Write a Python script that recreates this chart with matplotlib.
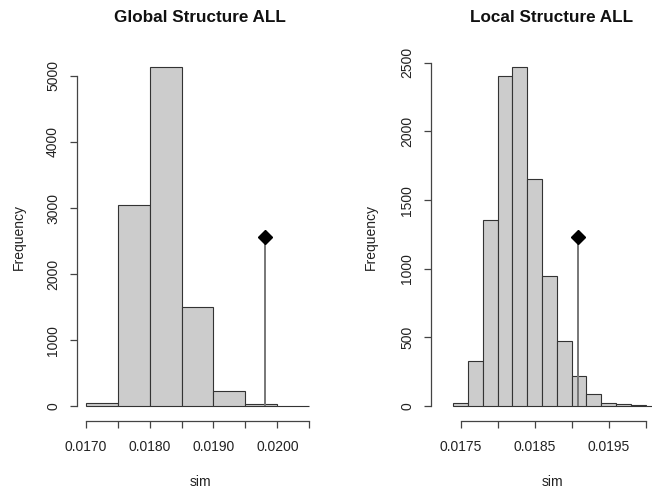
import matplotlib
matplotlib.use("Agg")
import matplotlib.pyplot as plt
import numpy as np

plt.rcParams['font.family'] = ['Liberation Sans', 'DejaVu Sans']

# ---- data ----
global_edges = [0.0170, 0.0175, 0.0180, 0.0185, 0.0190, 0.0195, 0.0200, 0.0205]
global_counts = [55, 3040, 5140, 1507, 227, 32, 6]
global_obs_x = 0.01981
global_obs_y = 2560
global_xticks = [0.0170, 0.0175, 0.0180, 0.0185, 0.0190, 0.0195, 0.0200, 0.0205]
global_xticklabels = ["0.0170", "", "0.0180", "", "0.0190", "", "0.0200", ""]
global_yticks = [0, 1000, 2000, 3000, 4000, 5000]

local_edges = [0.0174, 0.0176, 0.0178, 0.0180, 0.0182, 0.0184, 0.0186, 0.0188,
               0.0190, 0.0192, 0.0194, 0.0196, 0.0198, 0.0200, 0.0202]
local_counts = [24, 327, 1357, 2403, 2471, 1655, 947, 472, 218, 85, 24, 17, 7, 3]
local_obs_x = 0.01909
local_obs_y = 1231
local_xticks = [0.0175, 0.0180, 0.0185, 0.0190, 0.0195, 0.0200]
local_xticklabels = ["0.0175", "", "0.0185", "", "0.0195", ""]
local_yticks = [0, 500, 1000, 1500, 2000, 2500]

W, H = 652, 491
fig = plt.figure(figsize=(W / 100, H / 100), dpi=100)

AX_COL = '#444444'
TXT_COL = '#222222'
BAR_FC = '#cccccc'
BAR_EC = '#333333'


def px_rect(l, r, t, b):
    return [l / W, (H - b) / H, (r - l) / W, (b - t) / H]


def draw(ax, edges, counts, obs_x, obs_y, xticks, xticklabels, yticks, xlim, ylim):
    edges = np.asarray(edges)
    ax.bar(edges[:-1], counts, width=np.diff(edges), align='edge',
           color=BAR_FC, edgecolor=BAR_EC, linewidth=0.8, zorder=2)
    ax.vlines(obs_x, 0, obs_y, color='#777777', linewidth=1.4, zorder=3)
    ax.plot([obs_x], [obs_y], marker='D', markersize=7.5, color='black', zorder=4)
    ax.set_xlim(*xlim)
    ax.set_ylim(*ylim)
    for s in ['top', 'right']:
        ax.spines[s].set_visible(False)
    ax.spines['left'].set_bounds(yticks[0], yticks[-1])
    ax.spines['bottom'].set_bounds(xticks[0], xticks[-1])
    for s in ['left', 'bottom']:
        ax.spines[s].set_color(AX_COL)
        ax.spines[s].set_linewidth(0.9)
    ax.set_xticks(xticks)
    ax.set_xticklabels(xticklabels)
    ax.set_yticks(yticks)
    ax.set_yticklabels([str(v) for v in yticks])
    ax.tick_params(axis='both', direction='out', length=5, width=0.9,
                   color=AX_COL, labelcolor=TXT_COL, labelsize=10)
    ax.tick_params(axis='x', pad=9)
    ax.tick_params(axis='y', pad=7, labelrotation=90)
    for lab in ax.get_yticklabels():
        lab.set_va('center')
    ax.patch.set_visible(False)


# left panel
axL = fig.add_axes(px_rect(76.7, 318.3, 53, 421))
draw(axL, global_edges, global_counts, global_obs_x, global_obs_y,
     global_xticks, global_xticklabels, global_yticks,
     (0.01686, 0.02064), (-225, 5347))

# right panel
axR = fig.add_axes(px_rect(430.7, 673.3, 53, 421))
draw(axR, local_edges, local_counts, local_obs_x, local_obs_y,
     local_xticks, local_xticklabels, local_yticks,
     (0.017095, 0.020373), (-109, 2571))

# texts
fig.text(200 / W, 1 - 18 / H, "Global Structure ALL", ha='center', va='center',
         fontsize=12.3, fontweight='bold', color='#111111')
fig.text(552 / W, 1 - 18 / H, "Local Structure ALL", ha='center', va='center',
         fontsize=12.3, fontweight='bold', color='#111111')
fig.text(19 / W, 1 - 237 / H, "Frequency", ha='center', va='center', rotation=90,
         fontsize=10, color=TXT_COL)
fig.text(371 / W, 1 - 237 / H, "Frequency", ha='center', va='center', rotation=90,
         fontsize=10, color=TXT_COL)
fig.text(200 / W, 1 - 481.5 / H, "sim", ha='center', va='center',
         fontsize=10, color=TXT_COL)
fig.text(552 / W, 1 - 481.5 / H, "sim", ha='center', va='center',
         fontsize=10, color=TXT_COL)

fig.savefig("out.png", dpi=100)
